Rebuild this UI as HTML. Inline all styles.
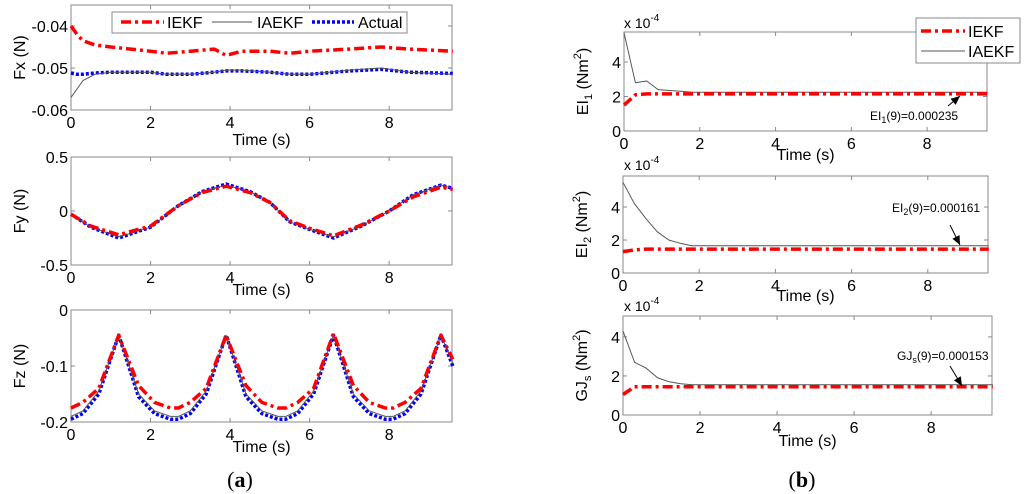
<!DOCTYPE html>
<html><head><meta charset="utf-8"><style>
html,body{margin:0;padding:0;background:#fff;}
svg{display:block;font-family:"Liberation Sans",Arial,sans-serif;}
</style></head><body>
<svg id="fig" width="1024" height="494" viewBox="0 0 1024 494" xmlns="http://www.w3.org/2000/svg"></svg>
<script>
// ---- data ----
const fxT = [0,0.15,0.3,0.6,1,1.5,2,2.4,3,3.6,3.9,4.3,5,5.5,6,7,7.8,8.5,9.6];
const fxIEKF = [-0.040,-0.042,-0.0435,-0.0445,-0.045,-0.0455,-0.046,-0.0465,-0.046,-0.0455,-0.047,-0.046,-0.046,-0.0465,-0.046,-0.0455,-0.045,-0.0455,-0.046];
const fxIAEKF = [-0.057,-0.055,-0.053,-0.0515,-0.051,-0.051,-0.051,-0.0515,-0.0515,-0.051,-0.0505,-0.0505,-0.051,-0.0515,-0.0515,-0.0505,-0.050,-0.051,-0.0515];
const fxActual = [-0.0512,-0.0515,-0.0515,-0.0512,-0.051,-0.051,-0.051,-0.0515,-0.0515,-0.051,-0.0507,-0.0507,-0.051,-0.0515,-0.0515,-0.0507,-0.0503,-0.051,-0.0513];
const fyT = [0,0.5,1.2,2,2.7,3.3,3.9,4.5,5,5.5,6,6.6,7.3,8,8.6,9.3,9.6];
const fyIEKF = [-0.03,-0.14,-0.22,-0.14,0.05,0.17,0.23,0.17,0.08,-0.09,-0.16,-0.23,-0.13,0.0,0.13,0.22,0.2];
const fyIAEKF = [-0.03,-0.15,-0.24,-0.15,0.05,0.18,0.24,0.18,0.08,-0.1,-0.17,-0.24,-0.14,0.0,0.15,0.24,0.21];
const fyActual = [-0.03,-0.15,-0.25,-0.15,0.05,0.18,0.25,0.18,0.08,-0.1,-0.17,-0.25,-0.14,0.0,0.15,0.24,0.21];
const fzT = [0,0.3,0.7,1.2,1.7,2.1,2.5,2.7,3.0,3.4,3.9,4.4,4.8,5.2,5.4,5.7,6.1,6.6,7.1,7.5,7.9,8.1,8.4,8.8,9.3,9.6];
const fzIEKF = [-0.175,-0.165,-0.14,-0.045,-0.135,-0.165,-0.175,-0.175,-0.165,-0.14,-0.045,-0.135,-0.165,-0.175,-0.175,-0.165,-0.14,-0.042,-0.135,-0.165,-0.175,-0.175,-0.165,-0.14,-0.045,-0.088];
const fzIAEKF = [-0.19,-0.18,-0.145,-0.045,-0.15,-0.18,-0.19,-0.19,-0.18,-0.145,-0.045,-0.15,-0.18,-0.19,-0.19,-0.18,-0.145,-0.045,-0.15,-0.18,-0.19,-0.19,-0.18,-0.145,-0.045,-0.095];
const fzActual = [-0.195,-0.185,-0.15,-0.045,-0.155,-0.185,-0.195,-0.195,-0.185,-0.15,-0.045,-0.155,-0.185,-0.195,-0.195,-0.185,-0.15,-0.045,-0.155,-0.185,-0.195,-0.195,-0.185,-0.15,-0.045,-0.1];
const eiT = [0,0.3,0.6,0.9,1.2,1.5,1.8,2.5,9.6];
const ei1IEKF = [1.5,2.1,2.15,2.15,2.15,2.15,2.15,2.15,2.15];
const ei1IAEKF = [5.7,2.8,2.9,2.4,2.35,2.3,2.25,2.25,2.25];
const ei2IEKF = [1.3,1.4,1.45,1.45,1.45,1.45,1.45,1.45,1.45];
const ei2IAEKF = [5.5,4.2,3.3,2.5,2.0,1.8,1.65,1.65,1.65];
const gjIEKF = [1.05,1.45,1.45,1.45,1.45,1.45,1.45,1.45,1.45];
const gjIAEKF = [4.3,2.7,2.4,1.9,1.7,1.6,1.55,1.55,1.55];
const xTicks = [0,2,4,6,8];

const NS='http://www.w3.org/2000/svg';
const svg=document.getElementById('fig');
function el(tag,attrs,parent){const e=document.createElementNS(NS,tag);for(const k in attrs)e.setAttribute(k,attrs[k]);(parent||svg).appendChild(e);return e;}

function axes(name,x0,x1,y0,y1,xmax,ymin,ymax,yTicks,yFmt,ylabel,xlabelY,yOff){
  const g=el('g',{});
  
  
  const sx=v=>x0+(v/xmax)*(x1-x0);
  const sy=v=>y1-(v-ymin)/(ymax-ymin)*(y1-y0);
  el('rect',{x:x0,y:y0,width:x1-x0,height:y1-y0,fill:'#fff',stroke:'#888','stroke-width':1},g);
  xTicks.forEach(t=>{const x=sx(t);
    el('line',{x1:x,x2:x,y1:y1,y2:y1-4,stroke:'#888'},g);el('line',{x1:x,x2:x,y1:y0,y2:y0+4,stroke:'#888'},g);
    const tx=el('text',{x:x,y:y1+18,'font-size':16,'text-anchor':'middle',fill:'#000'},g);tx.textContent=t;
    
    });
  yTicks.forEach(t=>{const y=sy(t);
    el('line',{x1:x0,x2:x0+4,y1:y,y2:y,stroke:'#888'},g);el('line',{x1:x1,x2:x1-4,y1:y,y2:y,stroke:'#888'},g);
    const tx=el('text',{x:x0-3,y:y+6,'font-size':16,'text-anchor':'end',fill:'#000'},g);tx.textContent=yFmt(t);
    
    });
  const xl=el('text',{x:(x0+x1)/2,y:xlabelY,'font-size':16,'text-anchor':'middle'},g);xl.textContent='Time (s)';
  
  
  const yl=el('text',{transform:`translate(${x0-yOff},${(y0+y1)/2}) rotate(-90)`,'font-size':16,'text-anchor':'middle'},g);
  yl.innerHTML=ylabel;
  
  
  return {g,sx,sy};
}
function line(ax,name,ts,vs,style){
  const d=ts.map((t,i)=>(i?'L':'M')+ax.sx(t).toFixed(1)+' '+ax.sy(vs[i]).toFixed(1)).join(' ');
  const p=el('path',Object.assign({d:d,fill:'none','stroke-linejoin':'round'},style),ax.g);
  
  
}
const sIEKF={stroke:'#ff0000','stroke-width':3.5,'stroke-dasharray':'10 4 3 4'};
const sIAEKF={stroke:'#555','stroke-width':1};
const sAct={stroke:'#0000ff','stroke-width':3.5,'stroke-dasharray':'3 2'};

// Left column
let a=axes('fx-plot',71,452,5,110,9.58,-0.06,-0.035,[-0.04,-0.05,-0.06],v=>v.toFixed(2),'Fx (N)',145,46);
line(a,'fx-actual',fxT,fxActual,sAct);line(a,'fx-iaekf',fxT,fxIAEKF,sIAEKF);line(a,'fx-iekf',fxT,fxIEKF,sIEKF);
const lg=el('g',{});
el('rect',{x:112,y:12,width:295,height:21,fill:'#fff',stroke:'#888'},lg);
el('line',Object.assign({x1:121,x2:164,y1:22,y2:22},sIEKF),lg);
let t=el('text',{x:167,y:28,'font-size':16},lg);t.textContent='IEKF';
el('line',Object.assign({x1:212,x2:252,y1:22,y2:22},sIAEKF),lg);
t=el('text',{x:257,y:28,'font-size':16},lg);t.textContent='IAEKF';
el('line',Object.assign({x1:312,x2:354,y1:22,y2:22},sAct),lg);
t=el('text',{x:358,y:28,'font-size':16},lg);t.textContent='Actual';

a=axes('fy-plot',71,452,157,265,9.58,-0.5,0.5,[0.5,0,-0.5],v=>v==0?'0':v.toString(),'Fy (N)',295,46);
line(a,'fy-actual',fyT,fyActual,sAct);line(a,'fy-iaekf',fyT,fyIAEKF,sIAEKF);line(a,'fy-iekf',fyT,fyIEKF,sIEKF);
a=axes('fz-plot',71,452,310,422,9.58,-0.2,0,[0,-0.1,-0.2],v=>v==0?'0':v.toString(),'Fz (N)',452,46);
line(a,'fz-actual',fzT,fzActual,sAct);line(a,'fz-iaekf',fzT,fzIAEKF,sIAEKF);line(a,'fz-iekf',fzT,fzIEKF,sIEKF);

// Right column
const yfmt=v=>String(v);
function exp(x,y){const e=el('text',{x:x,y:y,'font-size':14});e.innerHTML='x 10<tspan dy="-7" font-size="10">-4</tspan>';}
a=axes('ei1-plot',624,987,32,131,9.58,0,5.74,[0,2,4],yfmt,'EI<tspan dy="4" font-size="11">1</tspan><tspan dy="-4"> (Nm</tspan><tspan dy="-7" font-size="11">2</tspan><tspan dy="7">)</tspan>',160,36);
line(a,'ei1-iaekf',eiT,ei1IAEKF,sIAEKF);line(a,'ei1-iekf',eiT,ei1IEKF,sIEKF);
exp(624,28);
a=axes('ei2-plot',623,988,176,273,9.58,0,5.88,[0,2,4],yfmt,'EI<tspan dy="4" font-size="11">2</tspan><tspan dy="-4"> (Nm</tspan><tspan dy="-7" font-size="11">2</tspan><tspan dy="7">)</tspan>',301,36);
line(a,'ei2-iaekf',eiT,ei2IAEKF,sIAEKF);line(a,'ei2-iekf',eiT,ei2IEKF,sIEKF);
exp(624,170);
a=axes('gjs-plot',623,992,316,415,9.58,0,5.07,[0,2,4],yfmt,'GJ<tspan dy="4" font-size="11">s</tspan><tspan dy="-4"> (Nm</tspan><tspan dy="-7" font-size="11">2</tspan><tspan dy="7">)</tspan>',446,36);
line(a,'gjs-iaekf',eiT,gjIAEKF,sIAEKF);line(a,'gjs-iekf',eiT,gjIEKF,sIEKF);
exp(624,311);

function ann(x,y,html,ax,ay,bx,by){
  const g=el('g',{});
  const tx=el('text',{x:x,y:y,'font-size':12},g);tx.innerHTML=html;
  el('line',{x1:ax,y1:ay,x2:bx,y2:by,stroke:'#000','stroke-width':1},g);
  const ang=Math.atan2(by-ay,bx-ax),L=9,W=4;
  const px=bx-L*Math.cos(ang),py=by-L*Math.sin(ang);
  el('polygon',{points:`${bx},${by} ${px+W*Math.sin(ang)},${py-W*Math.cos(ang)} ${px-W*Math.sin(ang)},${py+W*Math.cos(ang)}`,fill:'#000'},g);
}
ann(870,120,'EI<tspan dy="3" font-size="9">1</tspan><tspan dy="-3">(9)=0.000235</tspan>',948,106,960,96);
ann(892,212,'EI<tspan dy="3" font-size="9">2</tspan><tspan dy="-3">(9)=0.000161</tspan>',950,225,960,245);
ann(897,360,'GJ<tspan dy="3" font-size="9">s</tspan><tspan dy="-3">(9)=0.000153</tspan>',950,366,962,386);

const lg2=el('g',{});
el('rect',{x:916,y:18,width:104,height:45,fill:'#fff',stroke:'#888'},lg2);
el('line',Object.assign({x1:921,x2:965,y1:31,y2:31},sIEKF),lg2);
t=el('text',{x:968,y:37,'font-size':16},lg2);t.textContent='IEKF';
el('line',Object.assign({x1:921,x2:965,y1:51,y2:51},sIAEKF),lg2);
t=el('text',{x:968,y:57,'font-size':16},lg2);t.textContent='IAEKF';

t=el('text',{x:240,y:487,'font-size':22,'text-anchor':'middle','font-family':'Liberation Serif,serif'});t.innerHTML='(<tspan font-weight="bold">a</tspan>)';

t=el('text',{x:802,y:487,'font-size':22,'text-anchor':'middle','font-family':'Liberation Serif,serif'});t.innerHTML='(<tspan font-weight="bold">b</tspan>)';

</script>
</body></html>
